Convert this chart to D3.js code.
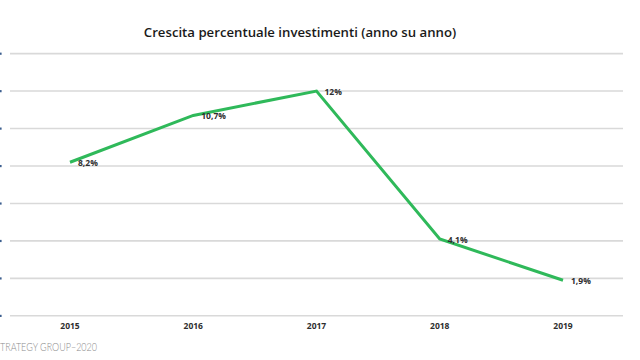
<!DOCTYPE html>
<html><head><meta charset="utf-8">
<script src="https://cdn.jsdelivr.net/npm/d3@7"></script>
<style>body{margin:0;background:#fff}svg{display:block}</style>
</head><body>
<svg id="c" width="640" height="360"></svg>
<script>
const years = ["2015","2016","2017","2018","2019"];
const values = [8.2, 10.7, 12, 4.1, 1.9];
const valueLabels = ["8,2%","10,7%","12%","4,1%","1,9%"];
const yTicks = [0,2,4,6,8,10,12,14];
const title = "Crescita percentuale investimenti (anno su anno)";
const source = "TRATEGY GROUP\u20132020";

const svg = d3.select("#c");
const x = d3.scalePoint().domain(years).range([70, 563]);
const y = d3.scaleLinear().domain([0, 14]).range([315.8, 53.6]);

// gridlines
svg.append("g").selectAll("line").data(yTicks).join("line")
  .attr("x1", 10).attr("x2", 623)
  .attr("y1", d => y(d)).attr("y2", d => y(d))
  .attr("stroke", "#d9d9d9").attr("stroke-width", 1.6);

// cut-off axis label fragments at left edge
svg.append("g").selectAll("rect").data(yTicks).join("rect")
  .attr("x", 0).attr("y", d => y(d) - 1).attr("width", 1.6).attr("height", 2.2)
  .attr("fill", "#3d5f8f");

// line
const line = d3.line().x((d,i) => x(years[i])).y(d => y(d));
svg.append("path").datum(values).attr("d", line)
  .attr("fill", "none").attr("stroke", "#2fb95a").attr("stroke-width", 3)
  .attr("stroke-linejoin", "miter").attr("stroke-linecap", "butt");

// value labels
svg.append("g").selectAll("text").data(values).join("text")
  .attr("x", (d,i) => x(years[i]) + 8)
  .attr("y", d => y(d) + 4)
  .attr("font-family", "Open Sans, sans-serif").attr("font-weight", 700)
  .attr("font-size", 8.5).attr("fill", "#2e2e2e")
  .text((d,i) => valueLabels[i]);

// x labels
svg.append("g").selectAll("text").data(years).join("text")
  .attr("x", d => x(d)).attr("y", 329)
  .attr("text-anchor", "middle")
  .attr("font-family", "Open Sans, sans-serif").attr("font-weight", 700)
  .attr("font-size", 8.5).attr("fill", "#2e2e2e")
  .text(d => d);

// title
svg.append("text").attr("x", 300).attr("y", 37).attr("text-anchor", "middle")
  .attr("font-family", "Open Sans, sans-serif").attr("font-weight", 600)
  .attr("font-size", 13.2).attr("fill", "#1a1a1a").text(title);

// source
svg.append("text").attr("x", 0).attr("y", 350.5)
  .attr("font-family", "Lato, sans-serif").attr("font-weight", 300)
  .attr("font-size", 11.5).attr("fill", "#8c8c8c")
  .attr("textLength", 97).attr("lengthAdjust", "spacingAndGlyphs").text(source);
</script>
</body></html>
